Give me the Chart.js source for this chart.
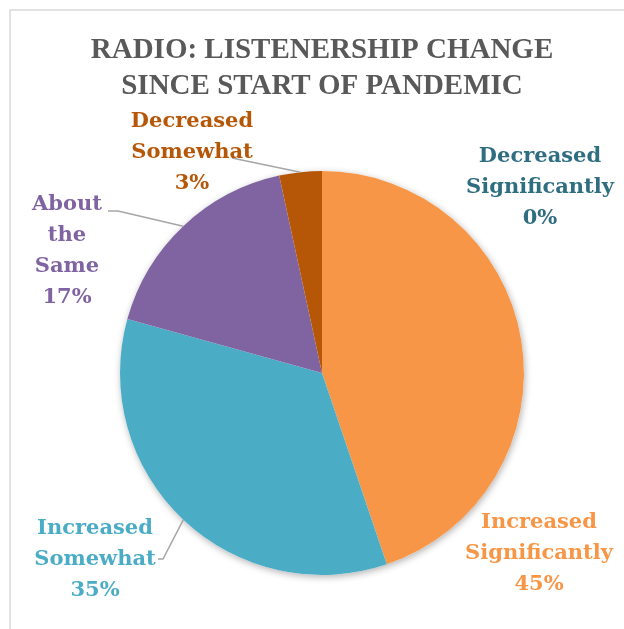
<!DOCTYPE html>
<html>
<head>
<meta charset="utf-8">
<script src="https://cdn.jsdelivr.net/npm/chart.js@4/dist/chart.umd.min.js"></script>
<style>
    body { margin: 0; background: #fff; }
</style>
</head>
<body>
<canvas id="myChart" width="624" height="629"></canvas>
<script>
//Chart data
var categories = ["Increased Significantly", "Increased Somewhat", "About the Same", "Decreased Somewhat", "Decreased Significantly"];
var shares = [44.8, 34.5, 17.3, 3.4, 0];
var titleLines = ["RADIO: LISTENERSHIP CHANGE", "SINCE START OF PANDEMIC"];

var sliceColors = ["#F79646", "#4BACC6", "#8064A2", "#B65708", "#2C6E7F"];
var textColors = ["#F79646", "#4BACC6", "#8064A2", "#B65708", "#2F6E80"];

//where each data label sits (center x, first baseline) and the label line bends
var labelPos = [
    {x: 539, y: 528, lines: ["Increased", "Significantly"]},
    {x: 95, y: 534, lines: ["Increased", "Somewhat"], leader: [[163, 559], [158, 559]]},
    {x: 67, y: 210, lines: ["About", "the", "Same"], leader: [[118, 211], [108, 211]]},
    {x: 192, y: 127, lines: ["Decreased", "Somewhat"], leader: [[232, 158]]},
    {x: 540, y: 162, lines: ["Decreased", "Significantly"]}
];

var labelFont = "bold 21px 'DejaVu Serif'";
var lineGap = 31;

//light frame along top and left like the cropped chart box
var framePlugin = {
    id: "frame",
    beforeDraw: function(chart) {
        var ctx = chart.ctx;
        ctx.save();
        ctx.strokeStyle = "#d9d9d9";
        ctx.lineWidth = 1.5;
        ctx.beginPath();
        ctx.moveTo(10, 629);
        ctx.lineTo(10, 10);
        ctx.lineTo(624, 10);
        ctx.stroke();
        ctx.restore();
    }
};

//soft shadow under the pie
var shadowPlugin = {
    id: "pieShadow",
    beforeDatasetsDraw: function(chart) {
        var arc = chart.getDatasetMeta(0).data[0];
        var ctx = chart.ctx;
        ctx.save();
        ctx.shadowColor = "rgba(0,0,0,0.3)";
        ctx.shadowBlur = 7;
        ctx.shadowOffsetX = 1;
        ctx.shadowOffsetY = 2;
        ctx.fillStyle = "#fff";
        ctx.beginPath();
        ctx.arc(arc.x, arc.y, arc.outerRadius, 0, Math.PI * 2);
        ctx.fill();
        ctx.restore();
    }
};

//data labels with leader lines
var labelPlugin = {
    id: "sliceLabels",
    afterDatasetsDraw: function(chart) {
        var ctx = chart.ctx;
        var meta = chart.getDatasetMeta(0);
        var total = shares.reduce(function(a, b) { return a + b; }, 0);

        for (var i = 0; i < meta.data.length; i++) {
            var arc = meta.data[i];
            var pos = labelPos[i];

            if (pos.leader) {
                var mid = (arc.startAngle + arc.endAngle) / 2;
                ctx.save();
                ctx.strokeStyle = "#a6a6a6";
                ctx.lineWidth = 1.5;
                ctx.beginPath();
                ctx.moveTo(arc.x + Math.cos(mid) * arc.outerRadius, arc.y + Math.sin(mid) * arc.outerRadius);
                for (var j = 0; j < pos.leader.length; j++) {
                    ctx.lineTo(pos.leader[j][0], pos.leader[j][1]);
                }
                ctx.stroke();
                ctx.restore();
            }

            var lines = pos.lines.concat([Math.round(shares[i] / total * 100) + "%"]);
            ctx.save();
            ctx.font = labelFont;
            ctx.fillStyle = textColors[i];
            ctx.textAlign = "center";
            ctx.textBaseline = "alphabetic";
            for (var k = 0; k < lines.length; k++) {
                ctx.fillText(lines[k], pos.x, pos.y + k * lineGap);
            }
            ctx.restore();
        }
    }
};

var ctx = document.getElementById("myChart");
var myChart = new Chart(ctx, {
    type: "pie",
    data: {
        labels: categories,
        datasets: [{
            data: shares,
            backgroundColor: sliceColors,
            borderWidth: 0,
            radius: 202
        }]
    },
    options: {
        responsive: false,
        animation: false,
        events: [],
        layout: { padding: { left: 20, right: 0, top: 0, bottom: 0 } },
        plugins: {
            legend: { display: false },
            tooltip: { enabled: false },
            title: {
                display: true,
                text: titleLines,
                color: "#595959",
                font: { family: "'Liberation Serif'", size: 29, weight: "bold", lineHeight: "36px" },
                padding: { top: 33, bottom: 12 }
            }
        }
    },
    plugins: [framePlugin, shadowPlugin, labelPlugin]
});
</script>
</body>
</html>
